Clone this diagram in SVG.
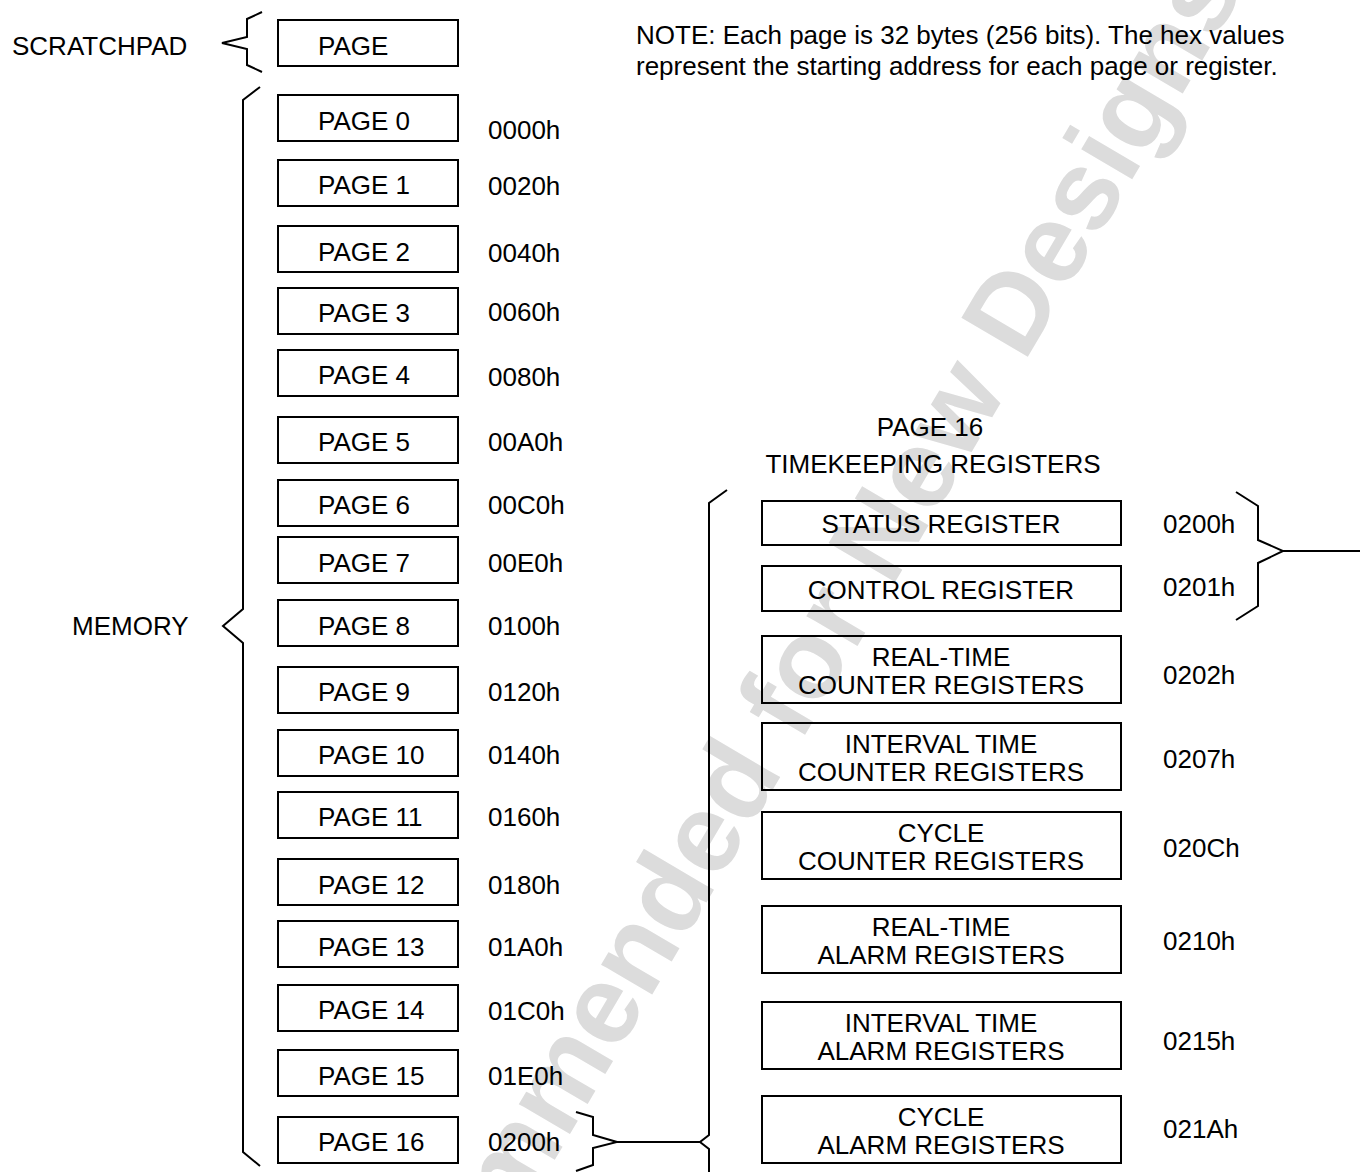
<svg xmlns="http://www.w3.org/2000/svg" width="1360" height="1172" viewBox="0 0 1360 1172">
<style>
.bg{fill:#fff}
.wm{font-family:"Liberation Sans",Arial,sans-serif;font-weight:bold;font-size:112px;fill:#dcdcdc}
.box{fill:none;stroke:#000;stroke-width:2}
.br{fill:none;stroke:#000;stroke-width:2;stroke-linejoin:miter}
.t{font-family:"Liberation Sans",Arial,sans-serif;font-size:26px;fill:#000}
.c{text-anchor:middle}
</style>
<rect class="bg" x="0" y="0" width="1360" height="1172"/>
<g id="watermark">
<text class="wm" transform="translate(266,1650) rotate(-59.5)" x="0" y="0">Not Recommended for New Designs</text>
</g>
<g id="note">
<text class="t" x="636" y="44">NOTE: Each page is 32 bytes (256 bits). The hex values</text>
<text class="t" x="636" y="75">represent the starting address for each page or register.</text>
</g>
<g id="labels">
<text class="t" x="12" y="55">SCRATCHPAD</text>
<text class="t" x="72" y="635">MEMORY</text>
<text class="t c" x="930" y="436">PAGE 16</text>
<text class="t c" x="933" y="473">TIMEKEEPING REGISTERS</text>
</g>
<g id="scratchpad-page"><rect class="box" x="278" y="20" width="180" height="46"/><text class="t" x="318" y="55">PAGE</text></g>
<g id="page0"><rect class="box" x="278" y="95" width="180" height="46"/><text class="t" x="318" y="130">PAGE 0</text><text class="t" x="488" y="139">0000h</text></g>
<g id="page1"><rect class="box" x="278" y="160" width="180" height="46"/><text class="t" x="318" y="194">PAGE 1</text><text class="t" x="488" y="195">0020h</text></g>
<g id="page2"><rect class="box" x="278" y="226" width="180" height="46"/><text class="t" x="318" y="261">PAGE 2</text><text class="t" x="488" y="262">0040h</text></g>
<g id="page3"><rect class="box" x="278" y="288" width="180" height="46"/><text class="t" x="318" y="322">PAGE 3</text><text class="t" x="488" y="321">0060h</text></g>
<g id="page4"><rect class="box" x="278" y="350" width="180" height="46"/><text class="t" x="318" y="384">PAGE 4</text><text class="t" x="488" y="386">0080h</text></g>
<g id="page5"><rect class="box" x="278" y="417" width="180" height="46"/><text class="t" x="318" y="451">PAGE 5</text><text class="t" x="488" y="451">00A0h</text></g>
<g id="page6"><rect class="box" x="278" y="480" width="180" height="46"/><text class="t" x="318" y="514">PAGE 6</text><text class="t" x="488" y="514">00C0h</text></g>
<g id="page7"><rect class="box" x="278" y="537" width="180" height="46"/><text class="t" x="318" y="572">PAGE 7</text><text class="t" x="488" y="572">00E0h</text></g>
<g id="page8"><rect class="box" x="278" y="600" width="180" height="46"/><text class="t" x="318" y="635">PAGE 8</text><text class="t" x="488" y="635">0100h</text></g>
<g id="page9"><rect class="box" x="278" y="667" width="180" height="46"/><text class="t" x="318" y="701">PAGE 9</text><text class="t" x="488" y="701">0120h</text></g>
<g id="page10"><rect class="box" x="278" y="730" width="180" height="46"/><text class="t" x="318" y="764">PAGE 10</text><text class="t" x="488" y="764">0140h</text></g>
<g id="page11"><rect class="box" x="278" y="792" width="180" height="46"/><text class="t" x="318" y="826">PAGE 11</text><text class="t" x="488" y="826">0160h</text></g>
<g id="page12"><rect class="box" x="278" y="859" width="180" height="46"/><text class="t" x="318" y="894">PAGE 12</text><text class="t" x="488" y="894">0180h</text></g>
<g id="page13"><rect class="box" x="278" y="921" width="180" height="46"/><text class="t" x="318" y="956">PAGE 13</text><text class="t" x="488" y="956">01A0h</text></g>
<g id="page14"><rect class="box" x="278" y="985" width="180" height="46"/><text class="t" x="318" y="1019">PAGE 14</text><text class="t" x="488" y="1020">01C0h</text></g>
<g id="page15"><rect class="box" x="278" y="1050" width="180" height="46"/><text class="t" x="318" y="1085">PAGE 15</text><text class="t" x="488" y="1085">01E0h</text></g>
<g id="page16"><rect class="box" x="278" y="1117" width="180" height="46"/><text class="t" x="318" y="1151">PAGE 16</text><text class="t" x="488" y="1151">0200h</text></g>
<g id="status-register"><rect class="box" x="762" y="501" width="359" height="44"/><text class="t c" x="941" y="533">STATUS REGISTER</text><text class="t" x="1163" y="533">0200h</text></g>
<g id="control-register"><rect class="box" x="762" y="566" width="359" height="45"/><text class="t c" x="941" y="599">CONTROL REGISTER</text><text class="t" x="1163" y="596">0201h</text></g>
<g id="rt-counter"><rect class="box" x="762" y="636" width="359" height="67"/><text class="t c" x="941" y="666">REAL-TIME</text><text class="t c" x="941" y="694">COUNTER REGISTERS</text><text class="t" x="1163" y="684">0202h</text></g>
<g id="it-counter"><rect class="box" x="762" y="723" width="359" height="67"/><text class="t c" x="941" y="753">INTERVAL TIME</text><text class="t c" x="941" y="781">COUNTER REGISTERS</text><text class="t" x="1163" y="768">0207h</text></g>
<g id="cycle-counter"><rect class="box" x="762" y="812" width="359" height="67"/><text class="t c" x="941" y="842">CYCLE</text><text class="t c" x="941" y="870">COUNTER REGISTERS</text><text class="t" x="1163" y="857">020Ch</text></g>
<g id="rt-alarm"><rect class="box" x="762" y="906" width="359" height="67"/><text class="t c" x="941" y="936">REAL-TIME</text><text class="t c" x="941" y="964">ALARM REGISTERS</text><text class="t" x="1163" y="950">0210h</text></g>
<g id="it-alarm"><rect class="box" x="762" y="1002" width="359" height="67"/><text class="t c" x="941" y="1032">INTERVAL TIME</text><text class="t c" x="941" y="1060">ALARM REGISTERS</text><text class="t" x="1163" y="1050">0215h</text></g>
<g id="cycle-alarm"><rect class="box" x="762" y="1096" width="359" height="67"/><text class="t c" x="941" y="1126">CYCLE</text><text class="t c" x="941" y="1154">ALARM REGISTERS</text><text class="t" x="1163" y="1138">021Ah</text></g>
<g id="connectors">
<path class="br" d="M262,12 L247,19 L247,37 L222,43 L247,49 L247,65 L262,72"/>
<path class="br" d="M260,87 L243,100 L243,609 L223,626 L243,643 L243,1152 L260,1166"/>
<path class="br" d="M576,1112 L593,1117 L593,1135 L617,1142 L593,1148 L593,1165 L576,1171"/>
<path class="br" d="M617,1142 L700,1142"/>
<path class="br" d="M727,490 L709,503 L709,1135 L700,1142 L709,1149 L709,1176"/>
<path class="br" d="M1236,492 L1258,506 L1258,540 L1283,551 L1258,563 L1258,606 L1236,620"/>
<path class="br" d="M1283,551 L1360,551"/>
</g>
</svg>
